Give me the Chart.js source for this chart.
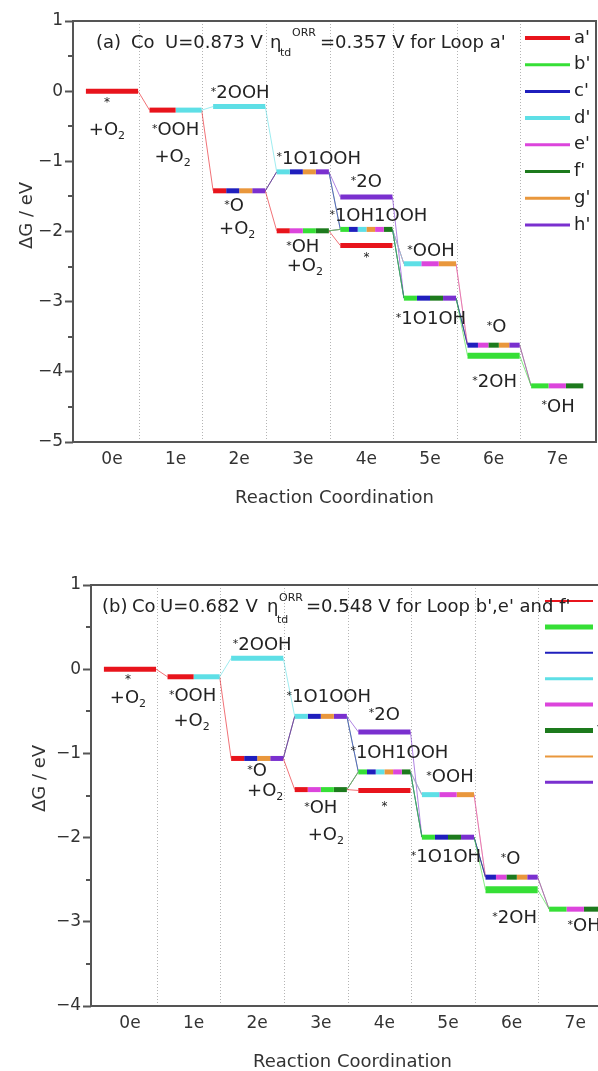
<!DOCTYPE html>
<html><head><meta charset="utf-8">
<script src="https://cdn.jsdelivr.net/npm/chart.js@4.4.0/dist/chart.umd.min.js"></script>
<style>
html,body{margin:0;padding:0;background:#fff;overflow:hidden;width:598px;height:1071px;position:relative;}
.wrap{position:absolute;width:620px;height:530px;}
#w1{left:0;top:0;}
#w2{left:18px;top:564px;}
</style></head><body>
<div class="wrap" id="w1"><canvas id="c1"></canvas></div>
<div class="wrap" id="w2"><canvas id="c2"></canvas></div>
<script>
// ---------------- data ----------------
const categories = ['0e','1e','2e','3e','4e','5e','6e','7e'];
const loopNames  = ["a'","b'","c'","d'","e'","f'","g'","h'"];
const loopColors = ['#e8141c','#36df36','#1f1fbd','#5edfe6','#dc45dc','#1d7a1d','#e9973c','#7a30cf'];
// states: 0:*+O2 1:*OOH+O2 2:*2OOH 3:*O+O2 4:*1O1OOH 5:*OH+O2 6:*2O 7:*1OH1OOH 8:* 9:*OOH 10:*1O1OH 11:*O 12:*2OH 13:*OH
const stateColumn = [0,1,2,2,3,3,4,4,4,5,5,6,6,7];
const stateText = [['*','+O_2'],['*OOH','+O_2'],['*2OOH'],['*O','+O_2'],['*1O1OOH'],['*OH','+O_2'],['*2O'],['*1OH1OOH'],['*'],['*OOH'],['*1O1OH'],['*O'],['*2OH'],['*OH']];
const energyA = [0,-0.27,-0.22,-1.42,-1.15,-1.99,-1.51,-1.97,-2.20,-2.46,-2.95,-3.62,-3.77,-4.20];
const energyB = [0,-0.09,0.13,-1.06,-0.56,-1.43,-0.745,-1.22,-1.44,-1.49,-1.995,-2.47,-2.62,-2.85];
// loops sharing each level, in drawn order (indices into loopNames)
const stateLoops = [[0],[0,3],[3],[0,2,6,7],[3,2,6,7],[0,4,1,5],[7],[1,2,3,6,4,5],[0],[3,4,6],[1,2,5,7],[2,4,5,6,7],[1],[1,4,5]];
// path of each loop through the states
const loopPaths = [
  [0,1,3,5,8],
  [5,7,10,12,13],
  [3,4,7,10,11],
  [1,2,4,7,9],
  [5,7,9,11,13],
  [5,7,10,11,13],
  [3,4,7,9,11],
  [3,4,6,10,11]
];
const yTicksA = [1,0,-1,-2,-3,-4,-5];
const yTicksB = [1,0,-1,-2,-3,-4];
const titleA = ['(a)','Co','U=0.873 V','\u03b7','td','ORR',"=0.357 V for Loop a'"];
const titleB = ['(b)','Co','U=0.682 V','\u03b7','td','ORR',"=0.548 V for Loop b',e' and f'"];
const xTitle = 'Reaction Coordination';
const yTitle = '\u0394G / eV';

// ---------------- layout / style ----------------
const FONT = '"DejaVu Sans", sans-serif';
const HALF = 0.41, DIV = 0.42;
const layoutA = {
  barW:[5,5,5,5,5,5,5,5,5,5,5,5,6,5],
  labelOff:[[[-5,12],[-5,39]],[[0,20],[-3,47]],[[1,-13]],[[-5,16],[-2,39]],[[16,-13]],[[0,17],[2,36]],[[0,-15]],[[12,-13]],[[0,12]],[[1,-12]],[[1,21]],[[3,-18]],[[1,27]],[[1,21]]],
  titleX:[96,131,165,270,280,292,320], titleY:[43,43,43,43,53,33,43],
  legX0:-71, legX1:-26, legLab:-22, legTop:17, legStep:26.7, legW:[4,3,3,4,3,3,3,3],
  yTitleX:27, yTitleDy:-16
};
const layoutB = {
  barW:[5,5,5,5,5,5,5,5,5,5,5,5,7,5],
  labelOff:[[[-2,11],[-2,29]],[[-1,20],[-2,45]],[[5,-13]],[[0,13],[8,33]],[[8,-19]],[[0,19],[5,46]],[[0,-17]],[[15,-19]],[[0,16]],[[2,-17]],[[-2,20]],[[-1,-18]],[[3,29]],[[9,17]]],
  titleX:[84,114,142,249,259,261,288], titleY:[43,43,43,43,56,34,43],
  legX0:-69, legX1:-21, legLab:-17, legTop:16, legStep:25.9, legW:[2,5,2,3,4,5,2,3],
  yTitleX:22, yTitleDy:-17
};

function rgba(hex,a){const n=parseInt(hex.slice(1),16);return `rgba(${n>>16&255},${n>>8&255},${n&255},${a})`;}

function richParts(text,size){
  const parts=[];
  for(let i=0;i<text.length;i++){
    const ch=text[i];
    if(ch==='*'){parts.push({t:'*',f:Math.round(size*0.62),dy:-size*0.08});}
    else if(ch==='_'){parts.push({t:text[i+1],f:Math.round(size*0.62),dy:size*0.32});i++;}
    else{const last=parts[parts.length-1];if(last&&last.n)last.t+=ch;else parts.push({t:ch,f:size,dy:0,n:true});}
  }
  return parts;
}
function drawRich(ctx,text,cx,cy,size){
  const parts=richParts(text,size);let w=0;
  parts.forEach(p=>{ctx.font=`${p.f}px ${FONT}`;p.w=ctx.measureText(p.t).width;w+=p.w;});
  let x=cx-w/2;ctx.textAlign='left';ctx.textBaseline='middle';
  parts.forEach(p=>{ctx.font=`${p.f}px ${FONT}`;ctx.fillText(p.t,x,cy+p.dy);x+=p.w;});
}

function buildDatasets(energy,lay){
  const ds=[];
  loopPaths.forEach((path,L)=>{
    const pts=[];
    for(let i=0;i<path.length-1;i++){
      const s=path[i],t=path[i+1];
      pts.push({x:stateColumn[s]+HALF,y:energy[s]});
      pts.push({x:stateColumn[t]-HALF,y:energy[t]});
      pts.push({x:stateColumn[t]-HALF,y:null});
    }
    ds.push({label:loopNames[L],data:pts,borderColor:rgba(loopColors[L],0.6),borderWidth:1,pointRadius:0,order:2,spanGaps:false});
  });
  stateLoops.forEach((loops,s)=>{
    const n=loops.length,x0=stateColumn[s]-HALF,w=2*HALF/n;
    loops.forEach((L,j)=>{
      ds.push({label:loopNames[L]+' '+s,data:[{x:x0+j*w,y:energy[s]},{x:x0+(j+1)*w,y:energy[s]}],
        borderColor:loopColors[L],borderWidth:lay.barW[s],borderCapStyle:'butt',pointRadius:0,order:0});
    });
  });
  return ds;
}

function decor(energy,lay,title){
  return {
    id:'decor',
    beforeDatasetsDraw(chart){
      const {ctx,chartArea:a,scales:{x}}=chart;
      ctx.save();ctx.strokeStyle='#b4b4b4';ctx.lineWidth=1;ctx.setLineDash([1,2]);
      for(let k=0;k<categories.length-1;k++){
        const px=Math.round(x.getPixelForValue(k+DIV))+0.5;
        ctx.beginPath();ctx.moveTo(px,a.top);ctx.lineTo(px,a.bottom);ctx.stroke();
      }
      ctx.restore();
    },
    afterDatasetsDraw(chart){
      const {ctx,chartArea:a,scales:{x,y}}=chart;
      ctx.save();ctx.fillStyle='#222';
      stateText.forEach((lines,s)=>{
        const cx=x.getPixelForValue(stateColumn[s]),cy=y.getPixelForValue(energy[s]);
        lines.forEach((t,i)=>{
          const o=lay.labelOff[s][i];
          if(t==='*'){ctx.font=`12px ${FONT}`;ctx.textAlign='center';ctx.textBaseline='middle';ctx.fillText('*',cx+o[0],cy+o[1]);}
          else drawRich(ctx,t,cx+o[0],cy+o[1],18);
        });
      });
      // legend
      loopNames.forEach((nm,i)=>{
        const ly=a.top+lay.legTop+i*lay.legStep;
        ctx.strokeStyle=loopColors[i];ctx.lineWidth=lay.legW[i];
        ctx.beginPath();ctx.moveTo(a.right+lay.legX0,ly);ctx.lineTo(a.right+lay.legX1,ly);ctx.stroke();
        ctx.fillStyle='#222';ctx.font=`18px ${FONT}`;ctx.textAlign='left';ctx.textBaseline='middle';
        ctx.fillText(nm,a.right+lay.legLab,ly);
      });
      // title
      title.forEach((t,i)=>{
        const small=(i===4||i===5);
        ctx.font=`${small?11:18}px ${FONT}`;ctx.textAlign='left';ctx.textBaseline='middle';ctx.fillStyle='#222';
        ctx.fillText(t,lay.titleX[i],lay.titleY[i]);
      });
      ctx.restore();
    },
    afterDraw(chart){
      const {ctx,chartArea:a,scales:{y}}=chart;
      ctx.save();
      ctx.strokeStyle='#555';ctx.lineWidth=2;
      ctx.strokeRect(a.left,a.top,a.right-a.left,a.bottom-a.top);
      ctx.beginPath();
      for(let v=y.min+0.5;v<y.max;v+=1){const py=Math.round(y.getPixelForValue(v));ctx.moveTo(a.left-5,py);ctx.lineTo(a.left,py);}
      ctx.stroke();
      ctx.translate(lay.yTitleX,(a.top+a.bottom)/2+lay.yTitleDy);ctx.rotate(-Math.PI/2);
      ctx.fillStyle='#333';ctx.font=`18px ${FONT}`;ctx.textAlign='center';ctx.textBaseline='middle';
      ctx.fillText(yTitle,0,0);
      ctx.restore();
    }
  };
}

function makeChart(id,energy,lay,title,yTicks){
  const yMin=Math.min(...yTicks),yMax=Math.max(...yTicks);
  return new Chart(document.getElementById(id),{
    type:'line',
    data:{datasets:buildDatasets(energy,lay)},
    options:{
      responsive:true,maintainAspectRatio:false,animation:false,devicePixelRatio:1,events:[],
      layout:{padding:{top:21,right:24,left:0,bottom:0}},
      plugins:{legend:{display:false},tooltip:{enabled:false}},
      scales:{
        x:{type:'linear',min:-0.613,max:7.61,
          afterBuildTicks:s=>{s.ticks=categories.map((c,i)=>({value:i}));},
          afterFit:s=>{s.height=88;},
          grid:{display:false,drawTicks:false},border:{display:false},
          ticks:{autoSkip:false,maxRotation:0,padding:7,color:'#333',font:{family:FONT,size:17},callback:v=>categories[v]},
          title:{display:true,text:xTitle,color:'#333',font:{family:FONT,size:18},padding:{top:0,bottom:21}}
        },
        y:{type:'linear',min:yMin,max:yMax,
          afterBuildTicks:s=>{s.ticks=yTicks.map(v=>({value:v}));},
          afterFit:s=>{s.width=73;},
          grid:{drawOnChartArea:false,drawTicks:true,tickLength:8,tickColor:'#555',tickWidth:2},border:{display:false},
          ticks:{padding:2,color:'#333',font:{family:FONT,size:17},callback:v=>v<0?'\u2212'+Math.abs(v):String(v)}
        }
      }
    },
    plugins:[decor(energy,lay,title)]
  });
}
makeChart('c1',energyA,layoutA,titleA,yTicksA);
makeChart('c2',energyB,layoutB,titleB,yTicksB);
</script>
</body></html>
